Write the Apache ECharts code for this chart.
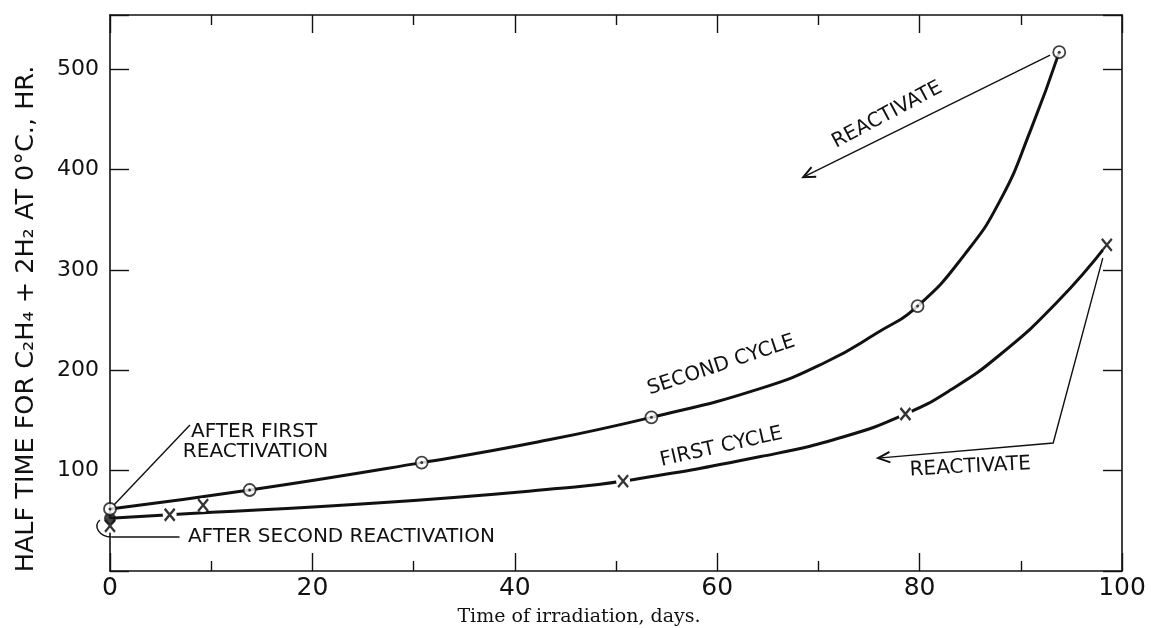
<!DOCTYPE html>
<html><head><meta charset="utf-8">
<script src="https://cdn.jsdelivr.net/npm/echarts@6/dist/echarts.min.js"></script>
<style>html,body{margin:0;padding:0;background:#fff}#c{width:1151px;height:628px}</style>
</head><body><div id="c"></div>
<script>
// ---- data ----
const xTickLabels = [0, 20, 40, 60, 80, 100];
const yTickLabels = [100, 200, 300, 400, 500];

// second cycle measured points (circle-dot markers)
const secondCycleDays  = [0, 13.8, 30.8, 53.5, 79.8, 93.8];
const secondCycleHours = [61.8, 80.7, 108, 153.1, 264, 517];
// second cycle drawn curve
const secondCurveDays  = [0, 13.8, 30.8, 42, 53.5, 64.3, 70.8, 75.7, 79.8, 84.5, 88, 91, 93.8];
const secondCurveHours = [61.8, 80.7, 108, 128, 153.1, 182, 208.5, 236.7, 264, 316, 370, 440, 517];

// first cycle measured points (x markers)
const firstCycleDays  = [5.9, 9.2, 50.7, 78.6, 98.5];
const firstCycleHours = [56, 65.7, 89.6, 156.4, 325];
// first cycle drawn curve
const firstCurveDays  = [0, 5.9, 26.7, 44.5, 50.7, 64.3, 72.5, 78.6, 83, 88, 93.6, 98.5];
const firstCurveHours = [52.5, 56, 68, 82.4, 89.6, 114, 133.8, 156.4, 180, 216, 268, 325];

// start of first cycle (filled dot)
const firstStartDays  = [0];
const firstStartHours = [52.5];

// after second reactivation (x marker)
const secondReactDays  = [0];
const secondReactHours = [45];

// ---- build ----
const zip = (a, b) => a.map((v, i) => [v, b[i]]);
const secondPts = zip(secondCycleDays, secondCycleHours);
const xMarkPts = zip(firstCycleDays, firstCycleHours).concat(zip(secondReactDays, secondReactHours));

const FONT = 'DejaVu Sans';
const BLACK = '#111';
const xPath = 'path://M0,0L10,12M10,0L0,12';

const chart = echarts.init(document.getElementById('c'), null, {renderer: 'canvas'});

const axisBase = {
  axisLine: {show: true, onZero: false, lineStyle: {color: BLACK, width: 1.6}},
  splitLine: {show: false}
};
const tickStyle = {color: BLACK, width: 1.4};

chart.setOption({
  animation: false,
  backgroundColor: '#fff',
  grid: {left: 110, right: 29, top: 15, bottom: 57, containLabel: false},
  xAxis: [
    Object.assign({}, axisBase, {
      type: 'value', min: 0, max: 100, interval: 20, position: 'bottom',
      axisTick: {show: true, inside: true, length: 18, lineStyle: tickStyle},
      minorTick: {show: true, splitNumber: 2, length: 10, lineStyle: tickStyle},
      axisLabel: {
        show: true, margin: 5, color: BLACK, fontFamily: FONT, fontSize: 25,
        formatter: v => xTickLabels.includes(v) ? String(v) : ''
      }
    }),
    Object.assign({}, axisBase, {
      type: 'value', min: 0, max: 100, interval: 20, position: 'top',
      axisTick: {show: true, inside: true, length: 18, lineStyle: tickStyle},
      minorTick: {show: true, splitNumber: 2, length: 10, lineStyle: tickStyle},
      axisLabel: {show: false}
    })
  ],
  yAxis: [
    Object.assign({}, axisBase, {
      type: 'value', min: 0, max: 554, interval: 100, position: 'left',
      axisTick: {show: true, inside: true, length: 19, lineStyle: tickStyle},
      axisLabel: {
        show: true, margin: 11, color: BLACK, fontFamily: FONT, fontSize: 22,
        formatter: v => yTickLabels.includes(v) ? String(v) : ''
      }
    }),
    Object.assign({}, axisBase, {
      type: 'value', min: 0, max: 554, interval: 100, position: 'right',
      axisTick: {show: true, inside: true, length: 19, lineStyle: tickStyle},
      axisLabel: {show: false}
    })
  ],
  series: [
    {name: 'Second cycle', type: 'line', data: zip(secondCurveDays, secondCurveHours), smooth: 0.5,
     showSymbol: false, clip: false, z: 2, lineStyle: {color: BLACK, width: 3}},
    {name: 'First cycle', type: 'line', data: zip(firstCurveDays, firstCurveHours), smooth: 0.5,
     showSymbol: false, clip: false, z: 2, lineStyle: {color: BLACK, width: 3}},
    // white gaps behind x markers
    {type: 'scatter', data: xMarkPts, symbol: 'circle', symbolSize: 14, clip: false, z: 3,
     itemStyle: {color: '#fff', opacity: 1}},
    {type: 'scatter', data: xMarkPts, symbol: xPath, symbolSize: [10, 12], clip: false, z: 4,
     itemStyle: {color: 'rgba(0,0,0,0)', borderColor: '#000', borderWidth: 2.4}},
    {type: 'scatter', data: zip(firstStartDays, firstStartHours), symbol: 'circle', symbolSize: 12,
     clip: false, z: 5, itemStyle: {color: BLACK}},
    {type: 'scatter', data: secondPts, symbol: 'circle', symbolSize: 12, clip: false, z: 6,
     itemStyle: {color: '#fff', borderColor: BLACK, borderWidth: 1.8}},
    {type: 'scatter', data: secondPts, symbol: 'circle', symbolSize: 3, clip: false, z: 7,
     itemStyle: {color: BLACK}}
  ]
});

// ---- annotations (in data coordinates) ----
const P = (x, y) => chart.convertToPixel({xAxisIndex: 0, yAxisIndex: 0}, [x, y]);
const annoFont = '20px "DejaVu Sans"';
const texts = [
  {t: 'AFTER FIRST', at: [8.0, 138.7], rot: 0, align: 'left'},
  {t: 'REACTIVATION', at: [7.2, 118.8], rot: 0, align: 'left'},
  {t: 'AFTER SECOND REACTIVATION', at: [7.7, 34.2], rot: 0, align: 'left'},
  {t: 'SECOND CYCLE', at: [60.4, 205], rot: 18.4, align: 'center'},
  {t: 'FIRST CYCLE', at: [60.4, 123.5], rot: 12.7, align: 'center'},
  {t: 'REACTIVATE', at: [76.8, 454.4], rot: 28, align: 'center'},
  {t: 'REACTIVATE', at: [85.0, 103.6], rot: 3, align: 'center'}
];
const lines = [
  {pts: [[0.41, 66], [7.9, 145.4]], arrow: false},
  {pts: [[92.9, 514], [68.5, 392.4]], arrow: true},
  {pts: [[98.1, 311.8], [93.2, 127.5], [75.9, 112.5]], arrow: true},
  {pts: [[6.87, 33.9], [0.15, 33.9]], arrow: false}
];
const g = [];
texts.forEach(o => {
  const p = P(o.at[0], o.at[1]);
  g.push({type: 'text', x: p[0], y: p[1], rotation: o.rot * Math.PI / 180, z: 10,
    style: {text: o.t, font: annoFont, fill: BLACK, align: o.align, verticalAlign: 'middle'}});
});
const ls = {stroke: BLACK, lineWidth: 1.4, fill: null};
lines.forEach(o => {
  const px = o.pts.map(q => P(q[0], q[1]));
  g.push({type: 'polyline', shape: {points: px}, style: ls, z: 10});
  if (o.arrow) {
    const a = px[px.length - 2], b = px[px.length - 1];
    const ang = Math.atan2(b[1] - a[1], b[0] - a[0]);
    const L = 13, w = 0.42;
    const w1 = [b[0] - L * Math.cos(ang - w), b[1] - L * Math.sin(ang - w)];
    const w2 = [b[0] - L * Math.cos(ang + w), b[1] - L * Math.sin(ang + w)];
    g.push({type: 'polyline', shape: {points: [w1, b, w2]}, style: {stroke: BLACK, lineWidth: 2, fill: null}, z: 10});
  }
});
// curved end of the "after second reactivation" leader
(function () {
  const s = P(0.15, 33.9), c1 = P(-1.05, 33.9), c2 = P(-1.7, 44.5), e = P(-1.0, 50.8);
  g.push({type: 'bezierCurve', shape: {x1: s[0], y1: s[1], cpx1: c1[0], cpy1: c1[1], cpx2: c2[0], cpy2: c2[1], x2: e[0], y2: e[1]},
    style: ls, z: 10});
})();
// axis titles
g.push({type: 'text', x: 26, y: 319, rotation: Math.PI / 2, z: 10,
  style: {text: 'HALF TIME FOR C₂H₄ + 2H₂ AT 0°C., HR.', font: '25.5px "DejaVu Sans"', fill: BLACK,
    align: 'center', verticalAlign: 'middle'}});
g.push({type: 'text', x: 579, y: 617, z: 10,
  style: {text: 'Time of irradiation, days.', font: '19px "DejaVu Serif"', fill: BLACK,
    align: 'center', verticalAlign: 'middle'}});
chart.setOption({graphic: {elements: g}});
</script>
</body></html>
